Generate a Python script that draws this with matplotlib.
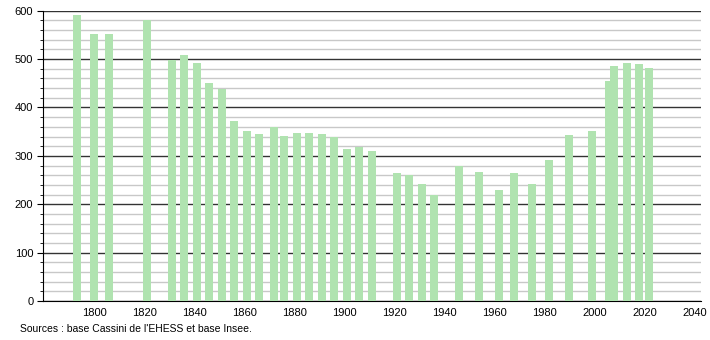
import matplotlib
matplotlib.use("Agg")
import matplotlib.pyplot as plt
from matplotlib.ticker import MultipleLocator

plt.rcParams["font.family"] = ["Liberation Sans", "DejaVu Sans"]

# population by census year
years = [1793, 1800, 1806, 1821, 1831, 1836, 1841, 1846, 1851, 1856,
         1861, 1866, 1872, 1876, 1881, 1886, 1891, 1896, 1901, 1906,
         1911, 1921, 1926, 1931, 1936, 1946, 1954, 1962, 1968, 1975,
         1982, 1990, 1999, 2006, 2008, 2013, 2018, 2022]
population = [591, 552, 552, 580, 499, 508, 491, 450, 439, 372,
              351, 346, 360, 342, 348, 348, 346, 339, 314, 319,
              311, 265, 260, 242, 220, 280, 267, 229, 265, 242,
              291, 343, 352, 455, 486, 492, 490, 481]

source = "Sources : base Cassini de l'EHESS et base Insee."

fig = plt.figure(figsize=(7.1, 3.4), dpi=100)
ax = fig.add_axes([0.0606, 0.1147, 0.9264, 0.8538])

ax.bar(years, population, width=3.2, color="#b0e3b0", zorder=3)

ax.set_xlim(1779.6, 2042.5)
ax.set_ylim(0, 600)

ax.set_xticks(range(1800, 2041, 20))
ax.yaxis.set_major_locator(MultipleLocator(100))
ax.yaxis.set_minor_locator(MultipleLocator(20))

ax.grid(True, axis="y", which="major", color="#333333", linewidth=1, zorder=1)
ax.grid(True, axis="y", which="minor", color="#c8c8c8", linewidth=1, zorder=0)

for side in ["top", "right"]:
    ax.spines[side].set_visible(False)
ax.spines["left"].set_color("black")
ax.spines["bottom"].set_color("black")

ax.tick_params(axis="x", length=0, labelsize=8, pad=5)
ax.tick_params(axis="y", which="major", length=4, labelsize=8, pad=3)
ax.tick_params(axis="y", which="minor", length=2)

fig.text(20 / 710, 1 - 329 / 340, source, fontsize=7.5, va="center", ha="left")

fig.savefig("out.png", dpi=100)
